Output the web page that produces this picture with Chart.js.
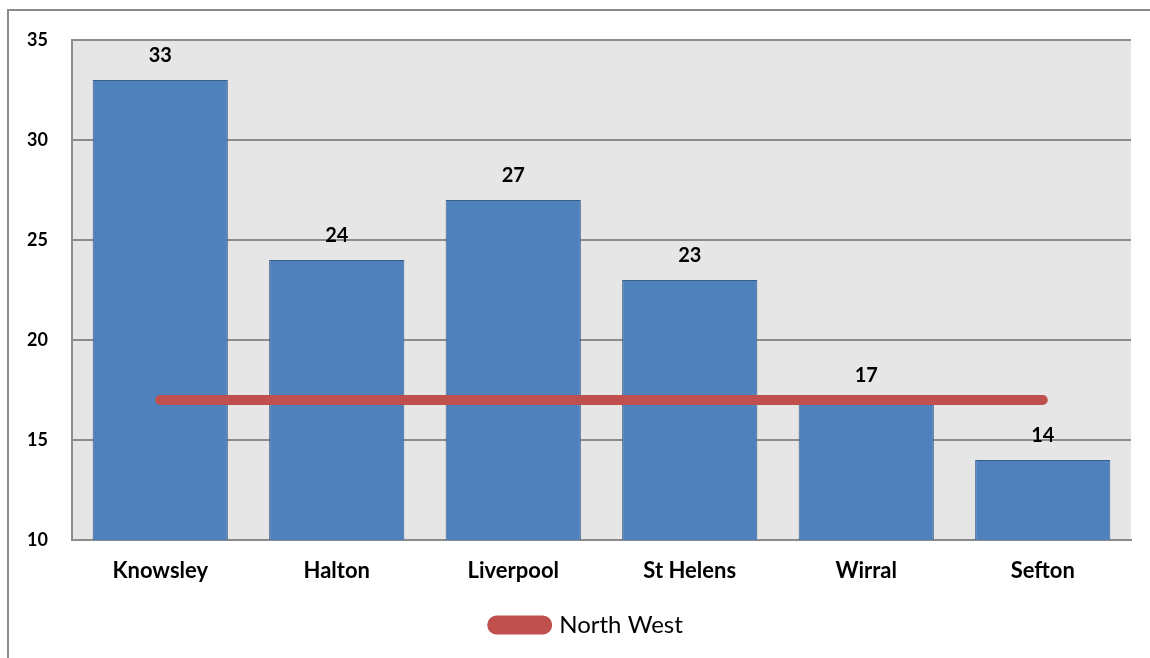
<!DOCTYPE html>
<html>
<head>
<meta charset="utf-8">
<script src="https://cdn.jsdelivr.net/npm/chart.js@4.4.1/dist/chart.umd.min.js"></script>
<style>
  html, body { margin: 0; padding: 0; background: #ffffff; }
  #wrap { position: relative; width: 1150px; height: 658px; }
</style>
</head>
<body>
<div id="wrap"><canvas id="c" width="1150" height="658"></canvas></div>
<script>
const categories = ["Knowsley", "Halton", "Liverpool", "St Helens", "Wirral", "Sefton"];
const areaValues = [33, 24, 27, 23, 17, 14];
const northWestValues = [17, 17, 17, 17, 17, 17];
const northWestLabel = "North West";
const yMin = 10, yMax = 35, yStep = 5;

const FONT = "Lato, 'Liberation Sans', sans-serif";

const bgPlugin = {
  id: 'bgPlugin',
  beforeDraw(chart) {
    const {ctx, chartArea: a} = chart;
    ctx.save();
    ctx.fillStyle = '#ffffff';
    ctx.fillRect(0, 0, chart.width, chart.height);
    ctx.fillStyle = '#e6e6e6';
    ctx.fillRect(a.left, a.top, a.right - a.left, a.bottom - a.top);
    ctx.strokeStyle = '#8c8c8c';
    ctx.lineWidth = 2;
    ctx.beginPath();
    ctx.moveTo(8, chart.height + 2);
    ctx.lineTo(8, 10);
    ctx.lineTo(chart.width + 2, 10);
    ctx.stroke();
    ctx.restore();
  }
};

const labelPlugin = {
  id: 'labelPlugin',
  afterDatasetsDraw(chart) {
    const {ctx} = chart;
    const meta = chart.getDatasetMeta(1);
    ctx.save();
    ctx.font = "bold 20px " + FONT;
    ctx.fillStyle = '#000000';
    ctx.textAlign = 'center';
    ctx.textBaseline = 'alphabetic';
    meta.data.forEach((el, i) => {
      ctx.fillText(String(areaValues[i]), el.x, el.y - 18);
    });
    ctx.restore();
  }
};

new Chart(document.getElementById('c'), {
  data: {
    labels: categories,
    datasets: [
      {
        type: 'line',
        label: northWestLabel,
        data: northWestValues,
        borderColor: '#c0504d',
        backgroundColor: '#c0504d',
        borderWidth: 10,
        borderCapStyle: 'round',
        pointRadius: 0,
        pointHoverRadius: 0,
        fill: false,
        order: 0
      },
      {
        type: 'bar',
        label: 'Area',
        data: areaValues,
        backgroundColor: '#4f81bd',
        borderColor: '#385d8a',
        borderWidth: 1,
        categoryPercentage: 1,
        barPercentage: 0.766,
        order: 1
      }
    ]
  },
  options: {
    responsive: false,
    animation: false,
    events: [],
    layout: { padding: { left: 25, right: 0, top: 40, bottom: 11 } },
    plugins: {
      tooltip: { enabled: false },
      legend: {
        position: 'bottom',
        labels: {
          filter: (item) => item.text === northWestLabel,
          boxWidth: 55,
          boxHeight: 9,
          useBorderRadius: true,
          borderRadius: 4.5,
          padding: 10,
          color: '#000000',
          font: { family: FONT, size: 24 }
        }
      }
    },
    scales: {
      x: {
        grid: { display: false, drawTicks: false },
        border: { display: true, color: '#8c8c8c', width: 2 },
        ticks: { color: '#000000', font: { family: FONT, size: 22, weight: 'bold' }, padding: 18, maxRotation: 0 },
        afterFit(scale) { scale.height = 63; }
      },
      y: {
        min: yMin,
        max: yMax,
        grid: { color: '#8c8c8c', lineWidth: 2, drawTicks: false },
        border: { display: true, color: '#8c8c8c', width: 2 },
        ticks: { stepSize: yStep, autoSkip: false, color: '#000000', font: { family: FONT, size: 18, weight: 'bold' }, padding: 24 },
        afterFit(scale) { scale.width = 47; }
      },
      yRight: {
        type: 'linear',
        position: 'right',
        display: true,
        grid: { display: false, drawTicks: false },
        border: { display: false },
        ticks: { display: false },
        afterFit(scale) { scale.width = 19; }
      }
    }
  },
  plugins: [bgPlugin, labelPlugin]
});
</script>
</body>
</html>
